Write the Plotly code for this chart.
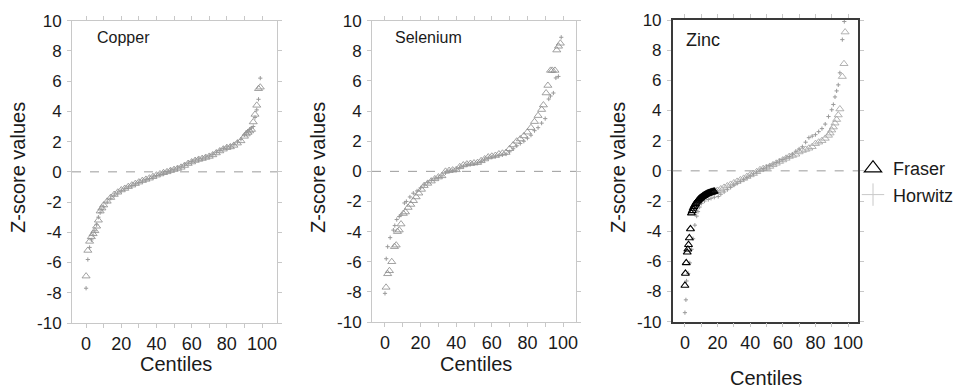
import plotly.graph_objects as go

# ---------------- data ----------------
cu_fraser_x = [0, 1, 2, 3, 4, 5, 6, 7, 8, 9, 10, 12, 14, 16, 18, 20, 22, 24, 26, 28, 30, 32, 34, 36, 38, 40,
               42, 44, 46, 48, 50, 52, 54, 56, 58, 60, 62, 64, 66, 68, 70, 72, 74, 76, 78, 80, 82, 84, 86, 88,
               90, 91, 92, 93, 94, 95, 96, 97, 98, 99]
cu_fraser_y = [-6.9, -5.2, -4.6, -4.3, -4.1, -3.9, -3.6, -3.2, -2.6, -2.4, -2.2, -1.95, -1.7, -1.5, -1.35, -1.2,
               -1.1, -0.98, -0.88, -0.78, -0.68, -0.58, -0.5, -0.42, -0.32, -0.22, -0.14, -0.06, 0.0, 0.08, 0.15,
               0.22, 0.3, 0.42, 0.55, 0.65, 0.75, 0.82, 0.88, 0.95, 1.02, 1.12, 1.25, 1.38, 1.5, 1.6, 1.65, 1.75,
               1.9, 2.05, 2.35, 2.5, 2.6, 2.7, 2.8, 3.3, 3.8, 4.4, 5.5, 5.6]
cu_horwitz_x = [0, 1, 2, 3, 4, 5, 6, 7, 8, 9, 10, 12, 14, 16, 18, 20, 22, 24, 26, 28, 30, 32, 34, 36, 38, 40,
                42, 44, 46, 48, 50, 52, 54, 56, 58, 60, 62, 64, 66, 68, 70, 72, 74, 76, 78, 80, 82, 84, 86, 88,
                90, 91, 92, 93, 94, 95, 96, 97, 98, 99]
cu_horwitz_y = [-7.7, -5.8, -5.0, -4.5, -4.2, -3.9, -3.5, -3.0, -2.7, -2.5, -2.3, -2.0, -1.75, -1.55, -1.4, -1.25,
                -1.12, -1.0, -0.9, -0.8, -0.7, -0.6, -0.52, -0.44, -0.34, -0.24, -0.15, -0.07, 0.02, 0.1, 0.17,
                0.25, 0.33, 0.45, 0.58, 0.68, 0.78, 0.85, 0.9, 0.98, 1.06, 1.16, 1.3, 1.42, 1.55, 1.65, 1.7, 1.82,
                1.98, 2.15, 2.45, 2.6, 2.7, 2.8, 2.9, 3.0, 3.6, 4.1, 4.8, 6.2]

se_fraser_x = [0.6, 1.5, 2.5, 3.8, 5.3, 6.3, 7, 8, 9, 10.3, 11.5, 13, 14.5, 16, 17.5, 19, 20.5, 22, 24, 26, 28,
               30, 32, 34, 36, 38, 40, 42, 44, 46, 48, 50, 52, 54, 56, 58, 60, 62, 64, 66, 68, 70, 72, 74, 76,
               78, 80, 82, 84, 86, 88, 89, 90.5, 91.5, 93, 94, 95.5, 96.5, 97.5, 98.5]
se_fraser_y = [-7.7, -6.8, -6.6, -6.0, -5.0, -4.9, -4.0, -3.9, -3.5, -2.8, -2.7, -2.4, -2.2, -1.95, -1.7, -1.45,
               -1.2, -0.95, -0.8, -0.65, -0.5, -0.38, -0.3, 0.0, 0.05, 0.08, 0.1, 0.3, 0.42, 0.48, 0.52, 0.55,
               0.58, 0.7, 0.82, 0.95, 1.0, 1.05, 1.15, 1.2, 1.25, 1.5, 1.75, 2.0, 2.15, 2.35, 2.6, 2.9, 3.3, 3.7,
               4.1, 4.4, 5.2, 5.7, 6.7, 6.7, 6.7, 8.05, 8.3, 8.5]
se_horwitz_x = [0, 0.7, 1.5, 2.9, 4.7, 5.5, 6.6, 8, 9, 10.9, 12, 14, 15.9, 18, 20, 22, 24, 26, 28, 30, 32, 34,
                36, 38, 40, 42, 44, 46, 48, 50, 52, 54, 56, 58, 60, 62, 64, 66, 68, 70, 72, 74, 76, 78, 80, 82,
                84, 86, 88, 90, 92, 93, 94.6, 96, 97.4, 99]
se_horwitz_y = [-8.1, -5.8, -5.0, -4.4, -3.9, -3.6, -3.2, -3.0, -2.9, -2.1, -2.0, -1.7, -1.45, -1.3, -1.1, -0.9,
                -0.75, -0.6, -0.5, -0.4, -0.3, -0.1, 0.02, 0.05, 0.08, 0.25, 0.35, 0.45, 0.48, 0.5, 0.55, 0.65,
                0.8, 0.9, 0.95, 1.0, 1.05, 1.1, 1.15, 1.3, 1.5, 1.7, 1.85, 2.0, 2.2, 2.4, 2.7, 2.9, 3.2, 3.5,
                4.8, 5.0, 5.2, 6.2, 6.3, 8.9]

zn_fraser_low_x = [0, 0.3, 0.8, 1.4, 1.8, 2.2, 2.7, 3.4, 4, 4.5, 5, 5.5, 6, 6.5, 7, 7.5, 8, 8.5, 9, 9.5, 10,
                   10.5, 11, 11.5, 12, 12.5, 13, 13.5, 14, 14.5, 15, 15.5, 16, 16.5, 17, 17.5, 18]
zn_fraser_low_y = [-7.6, -6.8, -6.1, -5.4, -5.2, -4.9, -4.45, -3.85, -2.8, -2.65, -2.5, -2.38, -2.28, -2.18,
                   -2.1, -2.02, -1.96, -1.9, -1.85, -1.8, -1.76, -1.72, -1.68, -1.64, -1.61, -1.58, -1.55, -1.52,
                   -1.5, -1.48, -1.46, -1.44, -1.42, -1.41, -1.4, -1.38, -1.37]
zn_fraser_x = [19, 20, 22, 24, 26, 28, 30, 32, 34, 36, 38, 40, 42, 44, 46, 48, 50, 52, 54, 56, 58, 60, 62, 64,
               66, 68, 70, 72, 74, 76, 78, 80, 82, 84, 86, 88, 89, 90, 91, 92, 93, 94, 95, 96.5, 97.5, 98.2]
zn_fraser_y = [-1.35, -1.3, -1.2, -1.1, -1.0, -0.9, -0.8, -0.7, -0.6, -0.5, -0.38, -0.27, -0.18, -0.06, 0.07,
               0.15, 0.22, 0.29, 0.4, 0.5, 0.62, 0.72, 0.83, 0.95, 1.02, 1.1, 1.25, 1.35, 1.42, 1.5, 1.6, 1.8,
               1.9, 2.0, 2.15, 2.35, 2.5, 2.7, 2.9, 3.16, 3.4, 3.7, 4.1, 6.25, 7.1, 9.2]
zn_horwitz_x = [0, 0.6, 1, 2, 3, 4.1, 5, 6.1, 7.2, 8, 9, 10.2, 12, 14.3, 16, 18, 20.4, 22, 24, 26, 28, 30, 32,
                34, 36, 38, 40, 42, 44, 46, 48, 50, 52, 54, 56, 58, 60, 62, 64, 66, 68, 70, 72, 74, 76, 78, 80,
                82, 84, 86, 88, 90, 91, 92, 93, 94, 95, 96.5, 97.7]
zn_horwitz_y = [-9.4, -8.55, -7.3, -6.8, -6.1, -5.2, -4.5, -3.6, -3.0, -2.7, -2.4, -2.15, -2.0, -1.9, -1.82,
                -1.75, -1.7, -1.55, -1.4, -1.25, -1.1, -0.95, -0.82, -0.7, -0.58, -0.45, -0.33, -0.2, -0.08,
                0.05, 0.15, 0.25, 0.35, 0.45, 0.55, 0.65, 0.75, 0.85, 0.95, 1.1, 1.3, 1.45, 1.6, 1.9, 2.2, 2.3,
                2.4, 2.6, 2.8, 3.1, 3.6, 4.05, 4.4, 4.9, 5.3, 5.7, 6.5, 8.7, 9.9]

panel_names = ["Copper", "Selenium", "Zinc"]
y_ticks = [-10, -8, -6, -4, -2, 0, 2, 4, 6, 8, 10]
y_ticktext = ["-10", "-8", "-6", "-4", "-2", "0", "2", "4", "6", "8", "10"]
x_tickvals = [0, 10, 20, 30, 40, 50, 60, 70, 80, 90, 100]
x_ticktext = ["0", "", "20", "", "40", "", "60", "", "80", "", "100"]
legend_names = ["Fraser", "Horwitz"]

# ---------------- styling ----------------
FONT = "Liberation Sans, Arial, Helvetica, sans-serif"
TXT = "#1a1a1a"
W, H = 969, 388

def px_x(p):
    return p / W

def px_y(p):
    return 1 - p / H

domains = [
    dict(x=[px_x(72), px_x(277)], y=[px_y(323), px_y(20.7)], xr=[-8, 108.5]),
    dict(x=[px_x(372), px_x(576)], y=[px_y(322), px_y(20.7)], xr=[-7.3, 107.3]),
    dict(x=[px_x(672.7), px_x(858)], y=[px_y(321.7), px_y(20)], xr=[-7.5, 106.1]),
]

fig = go.Figure()

tri = dict(symbol="triangle-up-open", size=7, color="#8a8a8a", line=dict(width=0.8, color="#8a8a8a"))
tri_light = dict(symbol="triangle-up-open", size=7, color="#a0a0a0", line=dict(width=0.8, color="#a0a0a0"))
tri_black = dict(symbol="triangle-up-open", size=7, color="#000000", line=dict(width=1.1, color="#000000"))
plus = dict(symbol="cross-thin-open", size=3, color="#9a9a9a", line=dict(width=1, color="#9a9a9a"))

series = [
    [(cu_fraser_x, cu_fraser_y, tri), (cu_horwitz_x, cu_horwitz_y, plus)],
    [(se_fraser_x, se_fraser_y, tri), (se_horwitz_x, se_horwitz_y, plus)],
    [(zn_horwitz_x, zn_horwitz_y, plus), (zn_fraser_x, zn_fraser_y, tri_light),
     (zn_fraser_low_x, zn_fraser_low_y, tri_black)],
]

for i, group in enumerate(series):
    ax = "" if i == 0 else str(i + 1)
    for xs, ys, mk in group:
        fig.add_trace(go.Scatter(x=xs, y=ys, mode="markers", marker=mk, showlegend=False,
                                 xaxis="x" + ax, yaxis="y" + ax, hoverinfo="x+y"))

# legend-only entries
fig.add_trace(go.Scatter(x=[None], y=[None], mode="markers", name=legend_names[0],
                         marker=dict(symbol="triangle-up-open", size=15, color="#000",
                                     line=dict(width=1.2, color="#000")),
                         xaxis="x3", yaxis="y3"))
fig.add_trace(go.Scatter(x=[None], y=[None], mode="markers", name=legend_names[1],
                         marker=dict(symbol="cross-thin-open", size=18, color="#c8c8c8",
                                     line=dict(width=1, color="#c8c8c8")),
                         xaxis="x3", yaxis="y3"))

layout = dict(
    width=W, height=H,
    margin=dict(l=0, r=0, t=0, b=0, autoexpand=False),
    paper_bgcolor="white", plot_bgcolor="white",
    font=dict(family=FONT, color=TXT, size=17),
    showlegend=True,
    legend=dict(x=px_x(853), y=px_y(150), xanchor="left", yanchor="top",
                font=dict(size=18, color=TXT, family=FONT), bgcolor="rgba(0,0,0,0)",
                tracegroupgap=0, itemsizing="trace"),
)

shapes = []
annotations = []
for i, d in enumerate(domains):
    ax = "" if i == 0 else str(i + 1)
    frame_col = "#c8c8c8" if i < 2 else "#3a3a3a"
    frame_w = 1 if i < 2 else 1.5
    layout["xaxis" + ax] = dict(
        domain=d["x"], anchor="y" + ax, range=d["xr"], automargin=False,
        tickvals=x_tickvals, ticktext=x_ticktext,
        ticks="outside", ticklen=4, tickcolor="#c8c8c8", tickwidth=1,
        showline=True, linecolor=frame_col, linewidth=frame_w, mirror="allticks",
        showgrid=False, zeroline=False,
        tickfont=dict(size=18, color=TXT, family=FONT),
        ticklabelstandoff=0,
    )
    layout["yaxis" + ax] = dict(
        domain=d["y"], anchor="x" + ax, range=[-10, 10], automargin=False,
        tickvals=y_ticks, ticktext=y_ticktext,
        ticks="outside", ticklen=4, tickcolor="#c8c8c8", tickwidth=1,
        showline=True, linecolor=frame_col, linewidth=frame_w, mirror="allticks",
        showgrid=False, zeroline=False,
        tickfont=dict(size=17, color=TXT, family=FONT),
        ticklabelstandoff=2,
    )
    shapes.append(dict(type="line", xref="x" + ax + " domain", yref="y" + ax,
                       x0=0, x1=1, y0=0, y1=0,
                       line=dict(color="#9a9a9a", width=1, dash="dash")))

# panel labels
label_pos = [(95, 38, 16), (393, 38, 16), (684, 40, 18)]
for name, (lx, ly, fs) in zip(panel_names, label_pos):
    annotations.append(dict(text=name, xref="paper", yref="paper", x=px_x(lx), y=px_y(ly),
                            xanchor="left", yanchor="middle", showarrow=False,
                            font=dict(size=fs, color=TXT, family=FONT)))

# axis titles
for cx in [18, 318, 618]:
    annotations.append(dict(text="Z-score values", xref="paper", yref="paper", x=px_x(cx), y=px_y(168),
                            xanchor="center", yanchor="middle", textangle=-90, showarrow=False,
                            font=dict(size=20, color=TXT, family=FONT)))
for cx, cy in [(176, 364), (476, 364), (766, 378)]:
    annotations.append(dict(text="Centiles", xref="paper", yref="paper", x=px_x(cx), y=px_y(cy),
                            xanchor="center", yanchor="middle", showarrow=False,
                            font=dict(size=20, color=TXT, family=FONT)))

layout["shapes"] = shapes
layout["annotations"] = annotations
fig.update_layout(**layout)

fig.write_html("out.html", config={"displayModeBar": False},
               post_script="document.body.style.margin='0px';document.body.style.overflow='hidden';")
